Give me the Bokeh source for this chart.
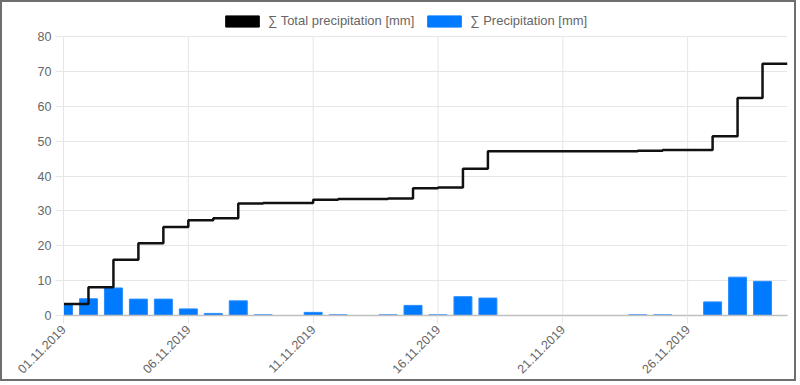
import pandas as pd
from bokeh.plotting import figure
from bokeh.models import ColumnDataSource, FixedTicker, DatetimeTickFormatter, Legend, LegendItem, Range1d
from bokeh.embed import file_html
from bokeh.resources import INLINE

dates = ["01.11.2019", "02.11.2019", "03.11.2019", "04.11.2019", "05.11.2019",
         "06.11.2019", "07.11.2019", "08.11.2019", "09.11.2019", "10.11.2019",
         "11.11.2019", "12.11.2019", "13.11.2019", "14.11.2019", "15.11.2019",
         "16.11.2019", "17.11.2019", "18.11.2019", "19.11.2019", "20.11.2019",
         "21.11.2019", "22.11.2019", "23.11.2019", "24.11.2019", "25.11.2019",
         "26.11.2019", "27.11.2019", "28.11.2019", "29.11.2019", "30.11.2019"]
precip = [3.3, 4.8, 7.9, 4.7, 4.7, 1.9, 0.6, 4.2, 0.2, 0.0,
          0.9, 0.2, 0.0, 0.2, 2.9, 0.2, 5.4, 5.0, 0.0, 0.0,
          0.0, 0.0, 0.0, 0.2, 0.2, 0.0, 3.9, 11.0, 9.8, 0.0]
total = [3.3, 8.1, 16.0, 20.7, 25.4, 27.3, 27.9, 32.1, 32.3, 32.3,
         33.2, 33.4, 33.4, 33.6, 36.5, 36.7, 42.1, 47.1, 47.1, 47.1,
         47.1, 47.1, 47.1, 47.3, 47.5, 47.5, 51.4, 62.4, 72.2, 72.2]
tick_dates = ["01.11.2019", "06.11.2019", "11.11.2019", "16.11.2019", "21.11.2019", "26.11.2019"]
y_ticks = [0, 10, 20, 30, 40, 50, 60, 70, 80]
y_max = 80

x = pd.to_datetime(dates, format="%d.%m.%Y")
tx = pd.to_datetime(tick_dates, format="%d.%m.%Y")
tx_ms = [float(t.value // 10**6) for t in tx]
src = ColumnDataSource(dict(x=x, precip=precip, total=total))

DAY = 24 * 3600 * 1000
GRID = "#e6e6e6"
TXT = "#666666"
FONT = "Liberation Sans"

# frame extended above 80 so the legend can sit inside it (px per unit = 279/80)
p = figure(width=796, height=381, output_backend="svg", toolbar_location=None,
           x_axis_type="datetime",
           x_range=Range1d(x[0], x[-1]), y_range=Range1d(0, 87.5),
           min_border_left=61, min_border_right=11, min_border_top=8, min_border_bottom=68)
p.styles = {"border": "2px solid #6e6e6e"}
p.outline_line_color = None

# vertical grid lines limited to the value range
p.segment(x0=tx_ms, x1=tx_ms, y0=[0] * len(tx_ms), y1=[y_max] * len(tx_ms), line_color=GRID, line_width=1)

bars = p.vbar(x="x", top="precip", width=0.72 * DAY, source=src,
              fill_color="#007bff", line_color="#2a8cff", line_width=1)
line = p.step(x="x", y="total", mode="after", source=src, line_color="#111111", line_width=2.5)

# legend proxies (filled boxes), placed outside the visible x range
off = [x[0] - pd.Timedelta(days=10)]
dummy_black = p.vbar(x=off, top=[0], width=1, fill_color="#000000", line_color="#000000")
dummy_blue = p.vbar(x=off, top=[0], width=1, fill_color="#007bff", line_color="#007bff")

legend = Legend(items=[LegendItem(label="∑ Total precipitation [mm]", renderers=[dummy_black]),
                       LegendItem(label="∑ Precipitation [mm]", renderers=[dummy_blue])],
                orientation="horizontal", location=(158, 287),
                glyph_width=42, glyph_height=14, label_standoff=5, spacing=9,
                padding=0, margin=0, border_line_color=None, background_fill_alpha=0,
                label_text_font=FONT, label_text_font_size="13px", label_text_color=TXT)
p.add_layout(legend, "center")

p.xaxis.ticker = FixedTicker(ticks=tx_ms)
p.xaxis.formatter = DatetimeTickFormatter(days="%d.%m.%Y", months="%d.%m.%Y", hours="%d.%m.%Y")
p.xaxis.major_label_orientation = 0.785
p.yaxis.ticker = FixedTicker(ticks=y_ticks)
p.yaxis.bounds = (0, y_max)

for ax in (p.xaxis, p.yaxis):
    ax.major_label_text_font = FONT
    ax.major_label_text_font_size = "12.5px"
    ax.major_label_text_color = TXT
    ax.major_tick_in = 0
    ax.major_tick_out = 8
    ax.major_tick_line_color = GRID
    ax.minor_tick_line_color = None
    ax.major_label_standoff = 4
p.xaxis.axis_line_color = "#bfbfbf"
p.xaxis.axis_line_width = 1.5
p.yaxis.axis_line_color = GRID

p.xgrid.grid_line_color = None
p.ygrid.grid_line_color = GRID

open("out.html", "w").write(file_html(p, INLINE))
